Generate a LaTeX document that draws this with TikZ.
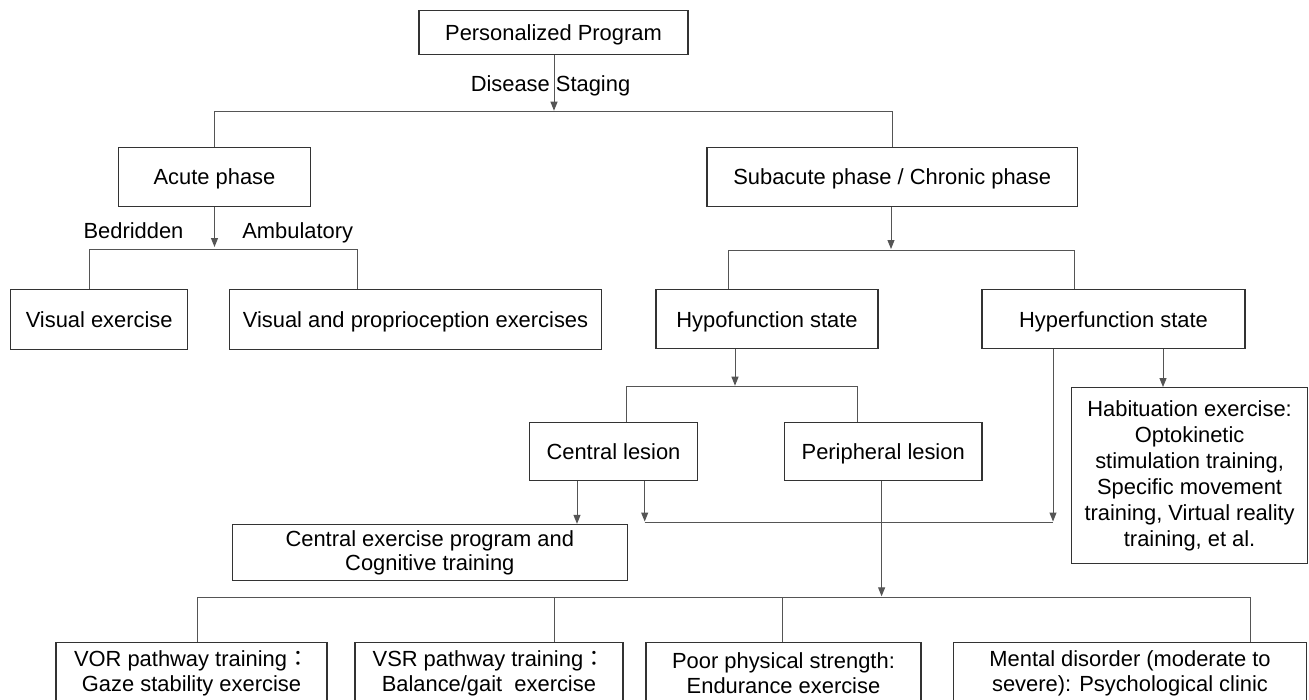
\documentclass[tikz,border=0pt]{standalone}
\usepackage{fontspec}
\setmainfont{Liberation Sans}
\newfontfamily\cjkfont{Noto Sans CJK JP}
\usetikzlibrary{arrows.meta}
\definecolor{boxc}{HTML}{333333}
\definecolor{linec}{HTML}{555555}
\begin{document}
\begin{tikzpicture}[x=1pt,y=-1pt,
  box/.style={draw=boxc, line width=1.3pt, inner sep=0pt, align=center, text=black, font=\fontsize{21.9}{24}\selectfont},
  oneline/.style={text height=15.7pt, text depth=0pt},
  lbl/.style={inner sep=0pt, text=black, font=\fontsize{21.9}{24}\selectfont, text height=15.7pt, text depth=0pt},
  conn/.style={draw=linec, line width=1pt},
  arr/.style={conn, -{Triangle[length=9pt,width=7pt]}}]
\useasboundingbox (0,0) rectangle (1309,699);
\clip (0,0) rectangle (1309,699);
\fill[white] (0,0) rectangle (1309,699);

% boxes
\node[box, oneline, minimum width=269pt, minimum height=44pt] (pp) at (553.5,32.3) {Personalized Program};
\node[box, oneline, minimum width=191.5pt, minimum height=59.3pt] (acute) at (214.5,176.8) {Acute phase};
\node[box, oneline, minimum width=370.3pt, minimum height=59.3pt] (sub) at (892.2,176.8) {Subacute phase / Chronic phase};
\node[box, oneline, minimum width=177pt, minimum height=60pt] (vis) at (99.2,319.5) {Visual exercise};
\node[box, oneline, minimum width=372.5pt, minimum height=60pt] (visprop) at (415.5,319.5) {Visual and proprioception exercises};
\node[box, oneline, minimum width=222pt, minimum height=59pt] (hypo) at (767,319.3) {Hypofunction state};
\node[box, oneline, minimum width=263pt, minimum height=59pt] (hyper) at (1113.5,319.3) {Hyperfunction state};
\node[box, oneline, minimum width=167.7pt, minimum height=58.3pt] (central) at (613.5,451.3) {Central lesion};
\node[box, oneline, minimum width=197.5pt, minimum height=58.3pt] (periph) at (883.2,451.3) {Peripheral lesion};
\node[box, minimum width=395pt, minimum height=56pt] (centex) at (429.8,552.5) {Central exercise program and\\Cognitive training};
\node[box, minimum width=235.8pt, minimum height=175.6pt, font=\fontsize{21.9}{26}\selectfont] (habit) at (1189.6,475.5) {Habituation exercise:\\Optokinetic\\stimulation training,\\Specific movement\\training, Virtual reality\\training, et al.};
\node[box, minimum width=271pt, minimum height=62pt, font=\fontsize{21.9}{25}\selectfont] (vor) at (191.5,673.5) {VOR pathway training{\cjkfont ：}\\Gaze stability exercise};
\node[box, minimum width=268pt, minimum height=62pt, font=\fontsize{21.9}{25}\selectfont] (vsr) at (488.9,673.5) {VSR pathway training{\cjkfont ：}\\Balance/gait\ \ exercise};
\node[box, minimum width=275pt, minimum height=62pt, font=\fontsize{21.9}{25}\selectfont] (poor) at (783.5,673.5) {Poor physical strength:\\Endurance exercise};
\node[box, minimum width=353pt, minimum height=62pt, font=\fontsize{21.9}{25}\selectfont] (mental) at (1130,673.5) {Mental disorder (moderate to\\severe): Psychological clinic};

% labels
\node[lbl] (ds) at (550.5,83.3) {Disease Staging};
\node[lbl] (bed) at (133.5,230.5) {Bedridden};
\node[lbl] (amb) at (297.7,230.5) {Ambulatory};

% junction coordinates
\coordinate (b1) at (554,111.7);
\coordinate (b2) at (214.5,249);
\coordinate (b2l) at (89.8,249);
\coordinate (b2r) at (357.8,249);
\coordinate (b3) at (891,250);
\coordinate (b3l) at (728.7,250);
\coordinate (b3r) at (1074.3,250);
\coordinate (b4) at (735,386.7);
\coordinate (b4l) at (626.7,386.7);
\coordinate (b4r) at (857.6,386.7);
\coordinate (hx) at (1163,387);
\coordinate (c1) at (644.7,522.5);
\coordinate (c2) at (1053,522.5);
\coordinate (cx) at (577,524);
\coordinate (b5) at (881.6,597.3);
\coordinate (b5l) at (197.8,597.3);
\coordinate (b5a) at (554.7,597.3);
\coordinate (b5b) at (782.8,597.3);
\coordinate (b5r) at (1250.3,597.3);

% connectors
\draw[arr] (pp.south -| b1) -- ([yshift=1pt]b1);
\draw[conn] (acute.north) |- (b1) -| (sub.north);

\draw[arr] (acute.south) -- ([yshift=2pt]b2);
\draw[conn] (vis.north -| b2l) -- (b2l) -- (b2r) -- (visprop.north -| b2r);

\draw[arr] (sub.south -| b3) -- ([yshift=1pt]b3);
\draw[conn] (hypo.north -| b3l) -- (b3l) -- (b3r) -- (hyper.north -| b3r);

\draw[arr] (hypo.south -| b4) -- ([yshift=1pt]b4);
\draw[conn] (central.north -| b4l) -- (b4l) -- (b4r) -- (periph.north -| b4r);

\draw[arr] (hyper.south -| hx) -- (habit.north -| hx);
\draw[arr] (hyper.south -| c2) -- ([yshift=1pt]c2);
\draw[arr] (central.south -| c1) -- ([yshift=1pt]c1);
\draw[conn] (c1) -- (c2);
\draw[arr] (central.south -| cx) -- (centex.north -| cx);

\draw[arr] (periph.south -| b5) -- ([yshift=1pt]b5);
\draw[conn] (vor.north -| b5l) -- (b5l) -- (b5r) -- (mental.north -| b5r);
\draw[conn] (b5a) -- (vsr.north -| b5a);
\draw[conn] (b5b) -- (poor.north -| b5b);
\end{tikzpicture}
\end{document}
